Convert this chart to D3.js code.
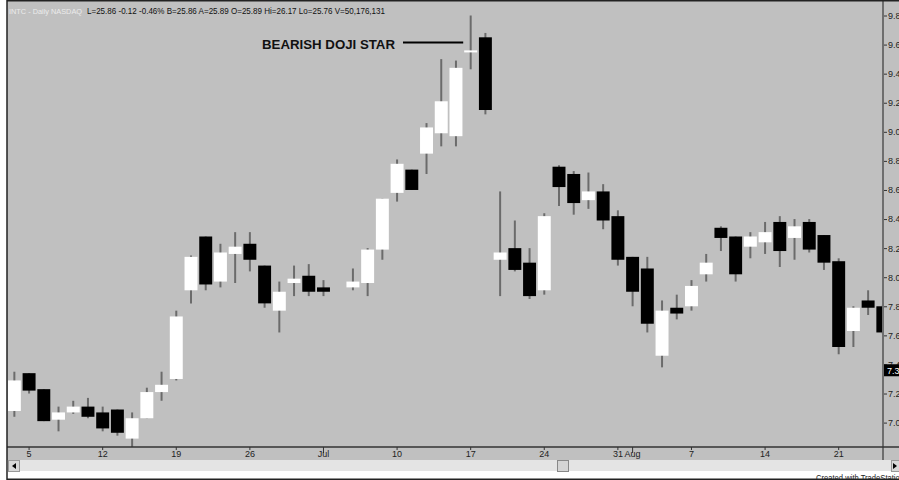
<!DOCTYPE html>
<html><head><meta charset="utf-8">
<script src="https://cdn.jsdelivr.net/npm/d3@7"></script>
<style>html,body{margin:0;padding:0;background:#fff;overflow:hidden}svg{display:block}</style>
</head><body>
<svg id="c" width="899" height="480"></svg>
<script>
// ---------- data ----------
const dates = ["Jun 2","Jun 5","Jun 6","Jun 7","Jun 8","Jun 9","Jun 12","Jun 13","Jun 14","Jun 15","Jun 16",
"Jun 19","Jun 20","Jun 21","Jun 22","Jun 23","Jun 26","Jun 27","Jun 28","Jun 29","Jun 30",
"Jul 3","Jul 4","Jul 5","Jul 6","Jul 7","Jul 10","Jul 11","Jul 12","Jul 13","Jul 14",
"Jul 17","Jul 18","Jul 19","Jul 20","Jul 21","Jul 24","Jul 25","Jul 26","Jul 27","Jul 28",
"Jul 31","Aug 1","Aug 2","Aug 3","Aug 4","Aug 7","Aug 8","Aug 9","Aug 10","Aug 11",
"Aug 14","Aug 15","Aug 16","Aug 17","Aug 18","Aug 21","Aug 22","Aug 23","Aug 24"];
const opens = [7.08,7.34,7.23,7.02,7.07,7.11,7.07,7.09,6.89,7.03,
7.21,7.30,7.91,8.28,7.97,8.16,8.23,8.08,7.77,7.96,
8.01,7.93,null,7.93,7.96,8.19,8.58,8.74,8.85,8.99,
8.97,9.55,9.65,8.12,8.20,8.10,7.91,8.76,8.71,8.53,
8.59,8.42,8.14,8.06,7.46,7.79,7.80,8.02,8.34,8.28,
8.21,8.24,8.38,8.27,8.38,8.29,8.11,7.63,7.84,7.80];
const highs = [7.35,7.34,7.23,7.11,7.15,7.17,7.11,7.09,7.07,7.24,
7.35,7.77,8.15,8.28,8.23,8.31,8.31,8.08,7.97,8.08,
8.09,7.98,null,8.06,8.20,8.54,8.81,8.74,9.06,9.50,
9.49,9.80,9.68,8.59,8.39,8.20,8.44,8.77,8.73,8.72,
8.64,8.46,8.14,8.14,7.84,7.88,7.98,8.16,8.35,8.28,
8.31,8.38,8.42,8.40,8.40,8.29,8.13,7.80,7.91,7.81];
const lows = [7.04,7.20,7.01,6.94,7.06,7.03,6.94,6.91,6.83,7.03,
7.15,7.29,7.82,7.91,7.93,7.96,8.04,7.79,7.62,7.87,
7.87,7.87,null,7.91,7.87,8.12,8.52,8.60,8.71,8.90,
8.90,9.43,9.12,7.87,8.04,7.85,7.88,8.49,8.43,8.47,
8.33,8.08,7.80,7.62,7.38,7.71,7.77,7.97,8.18,7.97,
8.13,8.16,8.07,8.12,8.17,8.05,7.47,7.52,7.74,7.61];
const closes = [7.29,7.22,7.01,7.07,7.11,7.04,6.96,6.93,7.03,7.21,
7.26,7.73,8.14,7.95,8.17,8.21,8.12,7.82,7.90,7.99,
7.90,7.90,null,7.97,8.19,8.54,8.78,8.60,9.03,9.21,
9.44,9.56,9.15,8.17,8.05,7.87,8.42,8.62,8.51,8.59,
8.39,8.12,7.90,7.68,7.77,7.75,7.94,8.10,8.27,8.02,
8.28,8.31,8.18,8.35,8.19,8.10,7.52,7.79,7.79,7.62];
const xTickDates  = ["Jun 5","Jun 12","Jun 19","Jun 26","Jul 3","Jul 10","Jul 17","Jul 24","Jul 31","Aug 1","Aug 7","Aug 14","Aug 21"];
const xTickLabels = ["5","12","19","26","Jul","10","17","24","31","Aug","7","14","21"];
const monthTicks  = ["Jul 3","Aug 1"];
const yTicks = [7.0,7.2,7.4,7.6,7.8,8.0,8.2,8.4,8.6,8.8,9.0,9.2,9.4,9.6,9.8];
const lastPrice = 7.36;
const headerSymbol = "INTC - Daily  NASDAQ";
const headerQuote = "L=25.86  -0.12  -0.46%  B=25.86  A=25.89  O=25.89  Hi=26.17  Lo=25.76  V=50,176,131";
const annotation = "BEARISH DOJI STAR";
const annotationDate = "Jul 17";

// ---------- layout ----------
const svg = d3.select("#c");
const L = 7, R = 883, T = 1, B = 447;
const FONT = "Arial, 'Liberation Sans', sans-serif";
const x = d3.scaleBand().domain(dates).range([L, L + dates.length * 14.72]).paddingInner(0.12).paddingOuter(0.06);
const y = d3.scaleLinear().domain([7.0, 9.8]).range([422.6, 15.5]);
const data = dates.map((d, i) => ({d, o: opens[i], h: highs[i], l: lows[i], c: closes[i]})).filter(e => e.o != null);

// backgrounds
svg.append("rect").attr("x", 0).attr("y", 0).attr("width", 899).attr("height", 480).attr("fill", "#fff");
svg.append("rect").attr("x", L).attr("y", 0).attr("width", 899 - L).attr("height", 460).attr("fill", "#c0c0c0");

// plot clip
svg.append("clipPath").attr("id", "pc").append("rect").attr("x", L + 1).attr("y", T + 1).attr("width", R - L - 1).attr("height", B - T - 1);
const g = svg.append("g").attr("clip-path", "url(#pc)");

// wicks
g.selectAll("line.w").data(data).join("line").attr("class", "w")
  .attr("x1", d => x(d.d) + x.bandwidth() / 2).attr("x2", d => x(d.d) + x.bandwidth() / 2)
  .attr("y1", d => y(d.h)).attr("y2", d => y(d.l))
  .attr("stroke", "#6b6b6b").attr("stroke-width", 2);
// bodies
g.selectAll("rect.b").data(data).join("rect").attr("class", "b")
  .attr("x", d => x(d.d)).attr("width", x.bandwidth())
  .attr("y", d => y(Math.max(d.o, d.c)))
  .attr("height", d => Math.max(2, Math.abs(y(d.o) - y(d.c))))
  .attr("fill", d => d.c >= d.o ? "#ffffff" : "#000000");

// right axis
const yAxis = d3.axisRight(y).tickValues(yTicks).tickFormat(d3.format(".2f")).tickSize(4).tickPadding(1);
const ya = svg.append("g").attr("transform", `translate(${R},0)`).call(yAxis);
ya.select(".domain").remove();
ya.selectAll("line").attr("stroke", "#333");
ya.selectAll("text").attr("font-family", FONT).attr("font-size", 9).attr("fill", "#222");
svg.append("line").attr("x1", R).attr("x2", R).attr("y1", 0).attr("y2", B + 13).attr("stroke", "#6e6e6e").attr("stroke-width", 2);

// last price marker
svg.append("rect").attr("x", R + 1).attr("y", y(lastPrice) - 6).attr("width", 20).attr("height", 12).attr("fill", "#000");
svg.append("text").attr("x", R + 4).attr("y", y(lastPrice) + 3.5).text(lastPrice.toFixed(2))
  .attr("font-family", FONT).attr("font-size", 9).attr("fill", "#fff");

// bottom axis
svg.append("line").attr("x1", L).attr("x2", 899).attr("y1", B).attr("y2", B).attr("stroke", "#333").attr("stroke-width", 1.5);
const xAxis = d3.axisBottom(x).tickValues(xTickDates).tickFormat((d, i) => xTickLabels[i]).tickSize(3).tickPadding(2);
const xa = svg.append("g").attr("transform", `translate(0,${B})`).call(xAxis);
xa.select(".domain").remove();
xa.selectAll(".tick line").attr("stroke", "#333").attr("y2", d => monthTicks.includes(d) ? 6 : 3);
xa.selectAll("text").attr("font-family", FONT).attr("font-size", 9).attr("fill", "#222").attr("dy", "0.55em");

// scroll bar
svg.append("rect").attr("x", L + 1).attr("y", 460).attr("width", 899 - L).attr("height", 11).attr("fill", "#e4e4e4");
svg.append("rect").attr("x", L + 1).attr("y", 471).attr("width", 899 - L).attr("height", 8).attr("fill", "#fff");
svg.append("rect").attr("x", L + 1.5).attr("y", 460.5).attr("width", 11).attr("height", 11).attr("fill", "#d8d8d8").attr("stroke", "#999");
svg.append("path").attr("d", `M${L + 5},466 L${L + 9},463 L${L + 9},469 Z`).attr("fill", "#000");
svg.append("rect").attr("x", 557.5).attr("y", 460.5).attr("width", 11).attr("height", 11).attr("fill", "#d4d4d4").attr("stroke", "#888");
svg.append("rect").attr("x", 891.5).attr("y", 460.5).attr("width", 11).attr("height", 11).attr("fill", "#d8d8d8").attr("stroke", "#999");
svg.append("path").attr("d", `M897,466 L893,463 L893,469 Z`).attr("fill", "#000");
svg.append("text").attr("x", 816).attr("y", 481).text("Created with TradeStation")
  .attr("font-family", FONT).attr("font-size", 8.5).attr("fill", "#222")
  .attr("textLength", 88).attr("lengthAdjust", "spacingAndGlyphs");

// frame
svg.append("line").attr("x1", L).attr("x2", L).attr("y1", 0).attr("y2", 480).attr("stroke", "#222").attr("stroke-width", 1.5);
svg.append("line").attr("x1", L).attr("x2", 899).attr("y1", 0.75).attr("y2", 0.75).attr("stroke", "#222").attr("stroke-width", 1.5);
svg.append("line").attr("x1", L).attr("x2", 899).attr("y1", 479.25).attr("y2", 479.25).attr("stroke", "#222").attr("stroke-width", 1.5);

// header
svg.append("text").attr("x", 9).attr("y", 14).text(headerSymbol)
  .attr("font-family", FONT).attr("font-size", 8).attr("fill", "#ececec")
  .attr("textLength", 73).attr("lengthAdjust", "spacingAndGlyphs");
svg.append("text").attr("x", 87).attr("y", 14).text(headerQuote)
  .attr("font-family", FONT).attr("font-size", 8.5).attr("fill", "#111")
  .attr("textLength", 298).attr("lengthAdjust", "spacingAndGlyphs");

// annotation
const ax = x(annotationDate);
svg.append("text").attr("x", 262).attr("y", 48.5).text(annotation)
  .attr("font-family", FONT).attr("font-weight", "bold").attr("font-size", 13.5).attr("fill", "#111")
  .attr("textLength", 133).attr("lengthAdjust", "spacingAndGlyphs");
svg.append("line").attr("x1", 403).attr("x2", ax - 1).attr("y1", 42.5).attr("y2", 42.5).attr("stroke", "#000").attr("stroke-width", 2);
</script>
</body></html>
